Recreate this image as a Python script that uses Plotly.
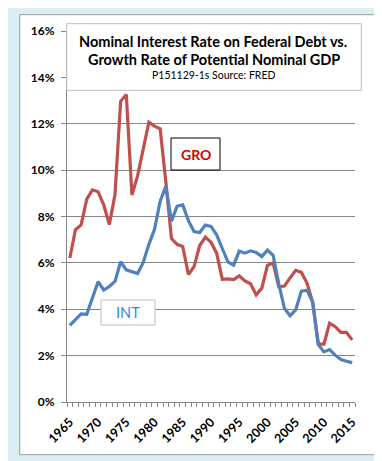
import plotly.graph_objects as go

years = list(range(1965, 2016))
gro = [6.21, 7.43, 7.64, 8.75, 9.15, 9.07, 8.50, 7.65, 8.95, 12.97,
       13.26, 8.93, 9.75, 10.95, 12.07, 11.90, 11.78, 9.50, 7.05, 6.80,
       6.70, 5.50, 5.84, 6.75, 7.11, 6.89, 6.42, 5.29, 5.31, 5.28,
       5.44, 5.22, 5.10, 4.62, 4.91, 5.89, 6.00, 4.97, 5.00, 5.35,
       5.68, 5.59, 5.13, 4.30, 2.50, 2.50, 3.40, 3.25, 3.00, 3.00, 2.68]
intr = [3.30, 3.55, 3.80, 3.78, 4.50, 5.19, 4.83, 4.98, 5.20, 6.05,
        5.70, 5.63, 5.54, 6.02, 6.80, 7.45, 8.66, 9.30, 7.80, 8.45,
        8.50, 7.82, 7.35, 7.31, 7.63, 7.57, 7.21, 6.62, 6.04, 5.90,
        6.51, 6.42, 6.52, 6.45, 6.27, 6.55, 6.33, 5.10, 4.04, 3.72,
        3.97, 4.78, 4.82, 4.32, 2.47, 2.16, 2.26, 2.02, 1.83, 1.76, 1.70]
x_labels = [1965, 1970, 1975, 1980, 1985, 1990, 1995, 2000, 2005, 2010, 2015]
y_ticks = [0, 2, 4, 6, 8, 10, 12, 14, 16]

title1 = "Nominal Interest Rate on Federal Debt vs."
title2 = "Growth Rate of Potential Nominal GDP"
subtitle = "P151129-1s Source: FRED"

W, H = 382, 461
L, R, T, B = 59, 35, 23, 67
PW = W - L - R
PH = H - T - B


def xp(px):
    return (px - L) / PW


def yp(py):
    return (H - B - py) / PH


FONT = "Lato"
GRID = "#868686"

fig = go.Figure()
fig.add_trace(go.Scatter(x=years, y=gro, mode="lines", name="GRO",
                         line=dict(color="#c0504d", width=3.2)))
fig.add_trace(go.Scatter(x=years, y=intr, mode="lines", name="INT",
                         line=dict(color="#4f81bd", width=3.2)))

shapes = [
    dict(type="rect", xref="paper", yref="paper", layer="below",
         x0=xp(11.7), x1=xp(370.7), y0=yp(446.7), y1=yp(6.7),
         fillcolor="white", line=dict(color="#9a9a9a", width=1)),
    dict(type="rect", xref="paper", yref="paper", layer="above",
         x0=xp(58.7), x1=xp(353.3), y0=yp(82.3), y1=yp(15.7),
         fillcolor="white", line=dict(color="#bfbfbf", width=1)),
    dict(type="rect", xref="paper", yref="paper", layer="above",
         x0=xp(163), x1=xp(212), y0=yp(162), y1=yp(130),
         fillcolor="white", line=dict(color="black", width=1)),
    dict(type="rect", xref="paper", yref="paper", layer="above",
         x0=xp(93), x1=xp(147), y0=yp(317), y1=yp(292),
         fillcolor="white", line=dict(color="#bfbfbf", width=1)),
]

annotations = [
    dict(text="<b>" + title1 + "</b>", x=xp(205), y=yp(33.5), xref="paper", yref="paper",
         showarrow=False, xanchor="center", yanchor="middle",
         font=dict(family=FONT, size=14.5, color="black")),
    dict(text="<b>" + title2 + "</b>", x=xp(206), y=yp(51.5), xref="paper", yref="paper",
         showarrow=False, xanchor="center", yanchor="middle",
         font=dict(family=FONT, size=14.5, color="black")),
    dict(text=subtitle, x=xp(206), y=yp(67), xref="paper", yref="paper",
         showarrow=False, xanchor="center", yanchor="middle",
         font=dict(family=FONT, size=10.5, color="black")),
    dict(text="<b>GRO</b>", x=xp(187.5), y=yp(146), xref="paper", yref="paper",
         showarrow=False, xanchor="center", yanchor="middle",
         font=dict(family=FONT, size=14, color="#d00000")),
    dict(text="INT", x=xp(120), y=yp(304.5), xref="paper", yref="paper",
         showarrow=False, xanchor="center", yanchor="middle",
         font=dict(family=FONT, size=14.5, color="#2f8ae0")),
]

fig.update_layout(
    width=W, height=H,
    margin=dict(l=L, r=R, t=T, b=B, pad=0),
    paper_bgcolor="#dbeef4",
    plot_bgcolor="white",
    showlegend=False,
    shapes=shapes,
    annotations=annotations,
    font=dict(family=FONT, color="black"),
)

fig.update_xaxes(
    range=[1964.5, 2015.5],
    tickmode="array", tickvals=x_labels, ticktext=[str(v) for v in x_labels],
    tickangle=-45, ticks="", ticklabelstandoff=7,
    tickfont=dict(family=FONT, size=12.5, color="black", weight="bold"),
    showgrid=False, zeroline=False,
    showline=True, linecolor=GRID, linewidth=1,
    minor=dict(tickmode="array", tickvals=[y - 0.5 for y in years] + [2015.5],
               ticks="outside", ticklen=4, tickcolor=GRID, tickwidth=1, showgrid=False),
)
fig.update_yaxes(
    range=[0, 16],
    tickmode="array", tickvals=y_ticks, ticktext=[f"{v}%" for v in y_ticks],
    ticks="outside", ticklen=5, tickcolor=GRID, tickwidth=1, ticklabelstandoff=4,
    tickfont=dict(family=FONT, size=12, color="black", weight="bold"),
    showgrid=True, gridcolor=GRID, gridwidth=1, zeroline=False,
    showline=True, linecolor=GRID, linewidth=1,
)

fig.write_html("out.html")
